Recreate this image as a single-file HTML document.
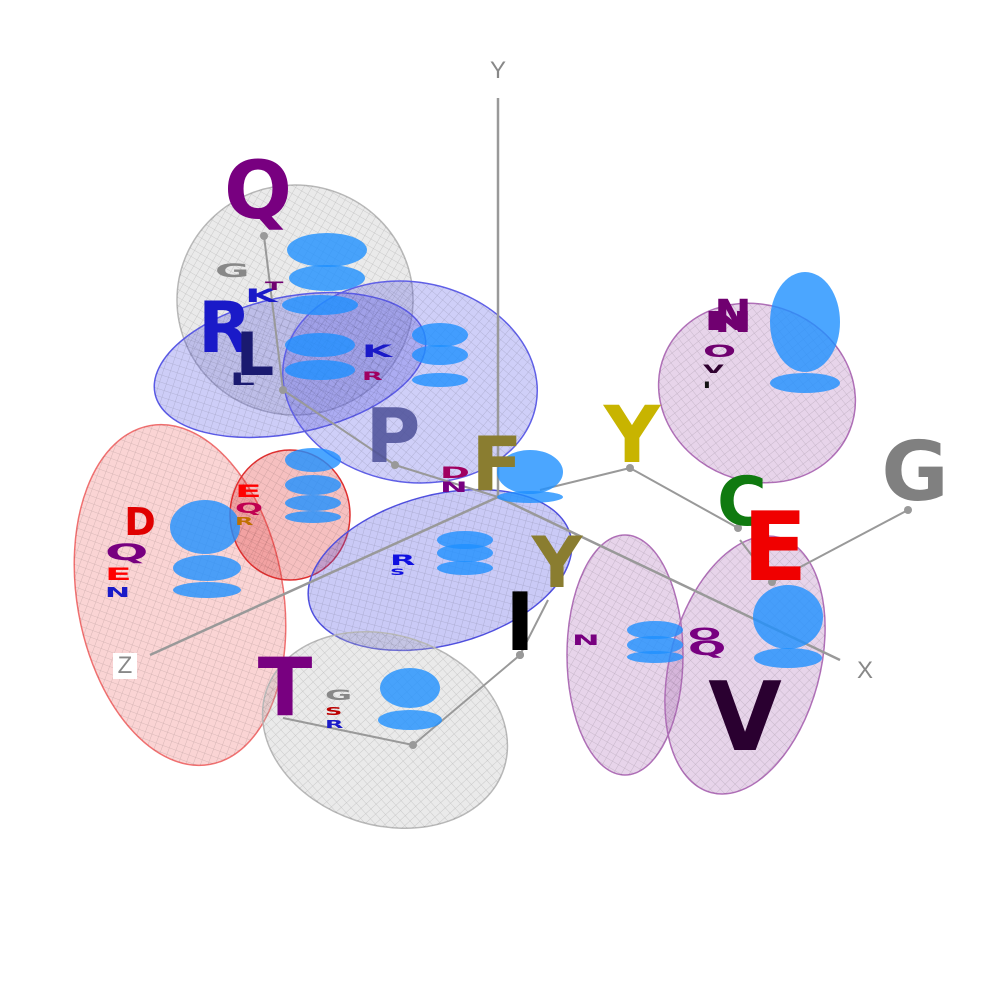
<!DOCTYPE html>
<html><head><meta charset="utf-8"><style>
html,body{margin:0;padding:0;background:#fff;}
svg{display:block;font-family:"Liberation Sans","DejaVu Sans",sans-serif;font-weight:bold;}
</style></head><body>
<svg id="chart" width="1000" height="1000" viewBox="0 0 1000 1000" xmlns="http://www.w3.org/2000/svg">
<defs>
<pattern id="mesh" width="7" height="7" patternUnits="userSpaceOnUse" patternTransform="rotate(30)">
<path d="M0 0H7M0 0V7" stroke="#000" stroke-opacity="0.25" stroke-width="0.8" fill="none"/>
</pattern>
</defs>
<g id="ells"></g>
<g id="axes"></g>
<g id="blobs"></g>
<g id="letters"></g>
</svg>
<script>
const ellCenters = [[295,300],[290,365],[410,382],[180,595],[290,515],[440,570],[385,730],[757,393],[625,655],[745,665]];
const ellRadii = [[118,115],[138,68],[128,100],[103,172],[60,65],[135,75],[125,95],[100,88],[58,120],[75,132]];
const ellRot = [0,-12,10,-10,0,-15,18,22,0,15];
const ellColor = ['#b8b8b8','#5a5ae6','#6060e8','#f07070','#e03030','#5050e0','#b8b8b8','#b070b8','#b070b8','#b070b8'];
const blobPts = [[327,250,40,17],[327,278,38,13],[805,322,35,50],[805,383,35,10],[530,472,33,22],[530,497,33,6],[205,527,35,27],[207,568,34,13],[207,590,34,8],[410,688,30,20],[410,720,32,10],[788,617,35,32],[788,658,34,10],[440,335,28,12],[440,355,28,10],[440,380,28,7],[313,460,28,12],[313,485,28,10],[313,503,28,8],[313,517,28,6],[320,305,38,10],[320,345,35,12],[320,370,35,10],[465,540,28,9],[465,553,28,9],[465,568,28,7],[655,630,28,9],[655,645,28,9],[655,657,28,6]];
const bigLetters = ['Q','P','F','Y','C','E','G','Y','I','T','V','R','L','N','D'];
const bigPos = [[258,218],[393,462],[497,490],[632,462],[742,525],[775,580],[915,500],[557,587],[520,650],[285,715],[745,750],[225,352],[255,375],[733,332],[140,535]];
const bigSize = [80,75,75,78,68,95,82,70,80,80,95,70,60,45,38];
const bigColor = ['#780080','#4b4f98','#8a7d30','#c8b400','#107a10','#f00000','#808080','#8a7d30','#000','#780080','#2a0030','#1a1ac8','#1a1a70','#700070','#e00000'];
const smallLetters = ['G','K','T','K','R','E','Q','R','D','N','Q','E','N','N','O','V','I','R','S','N','Q','O','G','S','R','L'];
const smallPos = [[215,277],[245,302],[265,290],[362,357],[362,380],[235,497],[235,513],[235,525],[440,478],[440,492],[105,560],[105,580],[105,597],[703,330],[703,357],[703,373],[703,388],[390,565],[390,575],[572,645],[688,655],[688,640],[325,700],[325,715],[325,728],[230,385]];
const smallSize = [28,28,18,26,18,26,22,16,24,22,34,26,20,40,26,18,14,22,14,22,30,26,22,16,16,26];
const smallColor = ['#888','#1a1ac8','#700070','#1a1ac8','#a00060','#f00','#c00050','#c07000','#a00060','#780080','#780080','#f00','#1a1ac8','#700070','#700070','#300030','#111','#1010e0','#1010e0','#780080','#780080','#780080','#888','#b00','#1a1ac8','#1a1a70'];
const axisEnds = [[498,98,'Y',498,78],[150,655,'Z',125,673],[840,660,'X',865,678]];
const origin = [498,497];
const stemFrom = [[264,236],[283,390],[395,465],[630,468],[738,528],[908,510],[520,655],[413,745],[520,655],[772,582]];
const stemTo = [[283,390],[395,465],[498,497],[540,490],[630,468],[772,582],[413,745],[283,718],[548,600],[740,540]];

const ns='http://www.w3.org/2000/svg';
function mk(t,a,p){const e=document.createElementNS(ns,t);for(const k in a)e.setAttribute(k,a[k]);p.appendChild(e);return e;}
const axes=document.getElementById('axes'),ells=document.getElementById('ells'),blobs=document.getElementById('blobs'),letters=document.getElementById('letters');

ellCenters.forEach((c,i)=>{
  const g=mk('g',{transform:`translate(${c[0]},${c[1]}) rotate(${ellRot[i]})`},ells);
  
  
  mk('ellipse',{rx:ellRadii[i][0],ry:ellRadii[i][1],fill:ellColor[i],'fill-opacity':0.3,stroke:ellColor[i],'stroke-width':1.5},g);
  mk('ellipse',{rx:ellRadii[i][0],ry:ellRadii[i][1],fill:'url(#mesh)',opacity:0.7},g);
});
axisEnds.forEach(a=>{
  const l=mk('line',{x1:origin[0],y1:origin[1],x2:a[0],y2:a[1],stroke:'#999','stroke-width':2.5},axes);
  
  
  if(a[2]==='Z') mk('rect',{x:a[3]-12,y:a[4]-20,width:24,height:26,fill:'#fff'},axes);
  const t=mk('text',{x:a[3],y:a[4],'text-anchor':'middle','font-size':24,'font-weight':'normal',fill:'#888'},axes);
  t.textContent=a[2];
  
  
});
stemFrom.forEach((s,i)=>{
  const l=mk('line',{x1:s[0],y1:s[1],x2:stemTo[i][0],y2:stemTo[i][1],stroke:'#999','stroke-width':2},axes);
  
  
  mk('circle',{cx:s[0],cy:s[1],r:4,fill:'#999'},axes);
});
blobPts.forEach((b,i)=>{
  const e=mk('ellipse',{cx:b[0],cy:b[1],rx:b[2],ry:b[3],fill:'#1e90ff','fill-opacity':0.8},blobs);
  
  
});
smallLetters.forEach((L,i)=>{
  const [x,y]=smallPos[i];
  const t=mk('text',{x:x,y:y,'font-size':smallSize[i],fill:smallColor[i],'font-family':'"DejaVu Sans",sans-serif',transform:`translate(${x},${y}) scale(1.5,0.65) translate(${-x},${-y})`},letters);
  t.textContent=L;
  
  
});
bigLetters.forEach((L,i)=>{
  const t=mk('text',{x:bigPos[i][0],y:bigPos[i][1],'text-anchor':'middle','font-size':bigSize[i],fill:bigColor[i],'font-family':'"DejaVu Sans",sans-serif','fill-opacity':L==='P'?0.85:1},letters);
  t.textContent=L;
  
  
});
</script>
</body></html>
